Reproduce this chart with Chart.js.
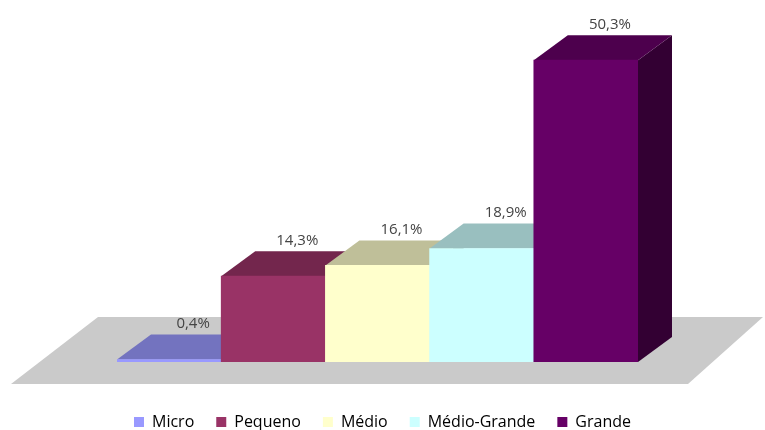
<!DOCTYPE html>
<html>
<head>
<meta charset="utf-8">
<script src="https://cdn.jsdelivr.net/npm/chart.js@4/dist/chart.umd.min.js"></script>
<style>
  html, body { margin: 0; padding: 0; background: #ffffff; }
  canvas { display: block; }
</style>
</head>
<body>
<canvas id="chart" width="765" height="430"></canvas>
<script>
// Company size categories and their share of the total (%)
const categories = ['Micro', 'Pequeno', 'Médio', 'Médio-Grande', 'Grande'];
const shares = [0.4, 14.3, 16.1, 18.9, 50.3];
const shareLabels = ['0,4%', '14,3%', '16,1%', '18,9%', '50,3%'];
const baseColors = ['#9999ff', '#993366', '#ffffcc', '#ccffff', '#660066'];

// Extrusion depth of the boxes and the shape of the grey floor
const depth = { dx: 34, dy: 25 };
const floorShape = { back: 45, front: 22, backLeft: 19, frontLeft: 106, backRight: 125, frontRight: 50, color: '#cacaca' };

function shade(hex, f) {
  const n = parseInt(hex.slice(1), 16);
  const r = Math.round(((n >> 16) & 255) * f);
  const g = Math.round(((n >> 8) & 255) * f);
  const b = Math.round((n & 255) * f);
  return 'rgb(' + r + ',' + g + ',' + b + ')';
}

// Invisible axis that only reserves room beside the plot
function spacer(position, size) {
  return {
    position,
    display: true,
    grid: { display: false },
    border: { display: false },
    ticks: { display: false },
    afterFit(scale) {
      if (scale.isHorizontal()) scale.height = size; else scale.width = size;
    }
  };
}

// Floor plus the top and side faces of each bar, painted behind the front faces
const boxes3d = {
  id: 'boxes3d',
  beforeDatasetsDraw(chart) {
    const ctx = chart.ctx;
    const bars = chart.getDatasetMeta(0).data;
    const y0 = chart.scales.y.getPixelForValue(0);
    const first = bars[0].getProps(['x', 'width'], true);
    const last = bars[bars.length - 1].getProps(['x', 'width'], true);
    const L = first.x - first.width / 2;
    const R = last.x + last.width / 2;
    const { dx, dy } = depth;

    ctx.save();
    ctx.fillStyle = floorShape.color;
    ctx.beginPath();
    ctx.moveTo(L - floorShape.backLeft, y0 - floorShape.back);
    ctx.lineTo(R + floorShape.backRight, y0 - floorShape.back);
    ctx.lineTo(R + floorShape.frontRight, y0 + floorShape.front);
    ctx.lineTo(L - floorShape.frontLeft, y0 + floorShape.front);
    ctx.closePath();
    ctx.fill();

    bars.forEach((bar, i) => {
      const p = bar.getProps(['x', 'y', 'base', 'width'], true);
      const l = p.x - p.width / 2, r = p.x + p.width / 2, t = p.y, b = p.base;
      // right side
      ctx.fillStyle = shade(baseColors[i], 0.5);
      ctx.beginPath();
      ctx.moveTo(r, t);
      ctx.lineTo(r + dx, t - dy);
      ctx.lineTo(r + dx, b - dy);
      ctx.lineTo(r, b);
      ctx.closePath();
      ctx.fill();
      // top
      ctx.fillStyle = shade(baseColors[i], 0.75);
      ctx.beginPath();
      ctx.moveTo(l, t);
      ctx.lineTo(l + dx, t - dy);
      ctx.lineTo(r + dx, t - dy);
      ctx.lineTo(r, t);
      ctx.closePath();
      ctx.fill();
    });
    ctx.restore();
  },
  afterDatasetsDraw(chart) {
    const ctx = chart.ctx;
    const bars = chart.getDatasetMeta(0).data;
    ctx.save();
    ctx.font = '15px "Open Sans", sans-serif';
    ctx.fillStyle = '#444444';
    ctx.textAlign = 'center';
    ctx.textBaseline = 'bottom';
    bars.forEach((bar, i) => {
      const p = bar.getProps(['x', 'y'], true);
      ctx.fillText(shareLabels[i], p.x + 24, p.y - depth.dy - 3);
    });
    ctx.restore();
  }
};

new Chart(document.getElementById('chart'), {
  type: 'bar',
  data: {
    labels: categories,
    datasets: [{
      data: shares,
      backgroundColor: baseColors,
      borderWidth: 0,
      barPercentage: 1,
      categoryPercentage: 1
    }]
  },
  options: {
    responsive: false,
    devicePixelRatio: 1,
    animation: false,
    events: [],
    layout: { padding: { left: 0, right: 0, top: 2, bottom: -10 } },
    scales: {
      x: spacer('bottom', 30),
      y: Object.assign(spacer('left', 117), { min: 0, max: 60 }),
      yRight: spacer('right', 127)
    },
    plugins: {
      tooltip: { enabled: false },
      legend: {
        position: 'bottom',
        labels: {
          boxWidth: 10,
          boxHeight: 10,
          padding: 22,
          color: '#333333',
          font: { family: '"Open Sans", sans-serif', size: 16 },
          generateLabels() {
            return categories.map((name, i) => ({
              text: name,
              fillStyle: baseColors[i],
              strokeStyle: baseColors[i],
              lineWidth: 0,
              index: i
            }));
          }
        }
      }
    }
  },
  plugins: [boxes3d]
});
</script>
</body>
</html>
